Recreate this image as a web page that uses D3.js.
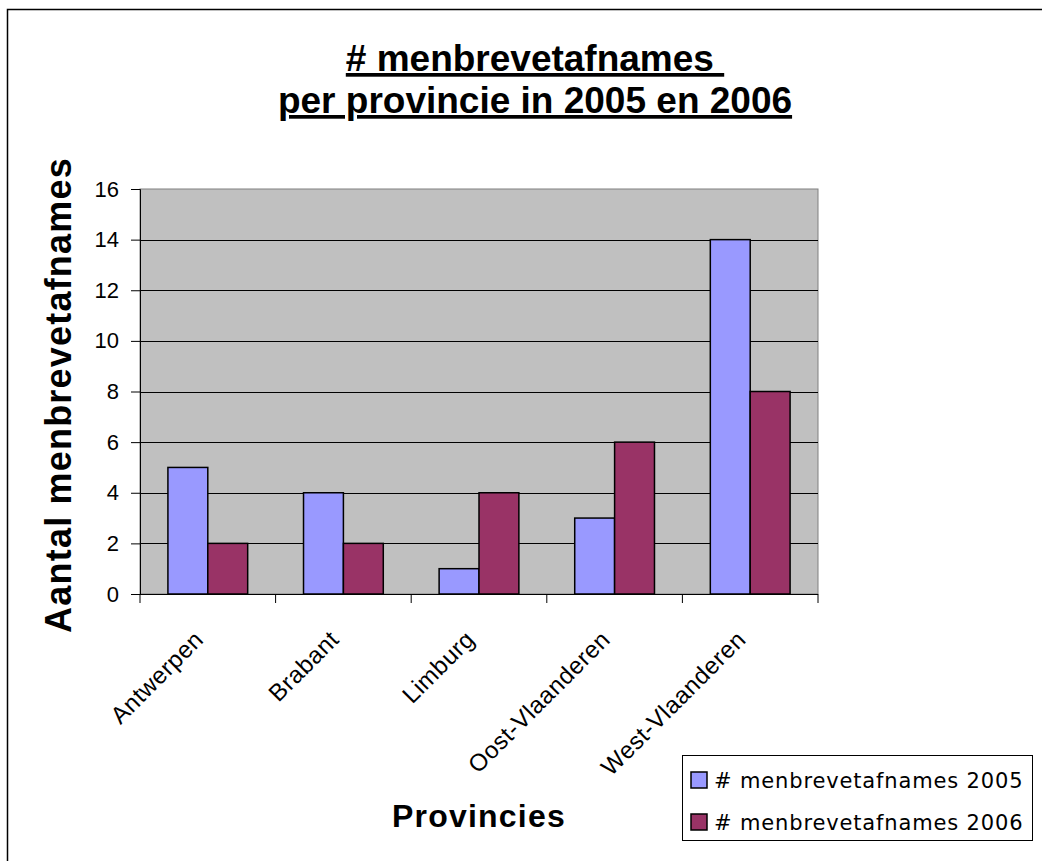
<!DOCTYPE html>
<html><head><meta charset="utf-8">
<script src="https://cdn.jsdelivr.net/npm/d3@7"></script>
<style>html,body{margin:0;padding:0;background:#fff;} svg{display:block;}</style>
</head><body>
<svg id="c" width="1042" height="861"></svg>
<script>
const categories = ["Antwerpen", "Brabant", "Limburg", "Oost-Vlaanderen", "West-Vlaanderen"];
const series2005 = [5, 4, 1, 3, 14];
const series2006 = [2, 2, 4, 6, 8];
const seriesNames = ["# menbrevetafnames 2005", "# menbrevetafnames 2006"];
const seriesColors = ["#9999FF", "#993366"];
const yTicks = [0, 2, 4, 6, 8, 10, 12, 14, 16];
const titleLines = ["# menbrevetafnames ", "per provincie in 2005 en 2006"];

const svg = d3.select("#c");
const font = "'Liberation Sans', Arial, sans-serif";

// outer border
svg.append("rect").attr("x", 7.5).attr("y", 9.5).attr("width", 1100).attr("height", 1000)
  .attr("fill", "none").attr("stroke", "#000").attr("stroke-width", 1.5);

const m = {left: 140, right: 818, top: 189, bottom: 594};
const x = d3.scaleBand().domain(categories).range([m.left, m.right]).paddingInner(0).paddingOuter(0);
const y = d3.scaleLinear().domain([0, 16]).range([m.bottom, m.top]);

// plot area
svg.append("rect").attr("x", m.left).attr("y", m.top).attr("width", m.right - m.left).attr("height", m.bottom - m.top)
  .attr("fill", "#C0C0C0").attr("stroke", "#808080").attr("stroke-width", 1);

// gridlines
svg.append("g").selectAll("line").data(yTicks.filter(d => d > 0 && d < 16)).join("line")
  .attr("x1", m.left).attr("x2", m.right).attr("y1", d => Math.round(y(d)) + 0.5).attr("y2", d => Math.round(y(d)) + 0.5)
  .attr("stroke", "#000").attr("stroke-width", 1);

// bars
const inner = d3.scaleBand().domain([0, 1]).range([0, x.bandwidth()]).paddingOuter(0.7).paddingInner(0);
const data = categories.map((c, i) => ({c, v: [series2005[i], series2006[i]]}));
const g = svg.append("g");
data.forEach(d => {
  d.v.forEach((v, j) => {
    g.append("rect").attr("x", x(d.c) + inner(j)).attr("y", y(v)).attr("width", inner.bandwidth()).attr("height", y(0) - y(v))
      .attr("fill", seriesColors[j]).attr("stroke", "#000").attr("stroke-width", 1.5);
  });
});

// y axis
const yAxis = d3.axisLeft(y).tickValues(yTicks).tickSize(9).tickPadding(12);
const ya = svg.append("g").attr("transform", `translate(${m.left},0)`).call(yAxis);
ya.select(".domain").attr("stroke", "#000");
ya.selectAll("text").attr("font-family", font).attr("font-size", 22).attr("fill", "#000");

// x axis
svg.append("line").attr("x1", m.left).attr("x2", m.right).attr("y1", m.bottom + 0.5).attr("y2", m.bottom + 0.5).attr("stroke", "#000");
svg.append("g").selectAll("line").data(categories.map(c => x(c)).concat([m.right])).join("line")
  .attr("x1", d => d).attr("x2", d => d).attr("y1", m.bottom).attr("y2", m.bottom + 9).attr("stroke", "#000");

svg.append("g").selectAll("text").data(categories).join("text")
  .attr("transform", d => `translate(${x(d) + x.bandwidth() / 2 - 3},${m.bottom + 47}) rotate(-45)`)
  .attr("text-anchor", "end").attr("font-family", font).attr("font-size", 24).attr("letter-spacing", 0.5).attr("fill", "#000")
  .text(d => d);

// title
titleLines.forEach((t, i) => {
  svg.append("text").attr("x", 535).attr("y", 71 + i * 42).attr("text-anchor", "middle")
    .attr("font-family", font).attr("font-weight", "bold").attr("font-size", 37)
    .attr("text-decoration", "underline").attr("xml:space", "preserve").style("white-space", "pre").text(t);
});

// axis titles
svg.append("text").attr("transform", `translate(71,395) rotate(-90)`).attr("text-anchor", "middle")
  .attr("font-family", font).attr("font-weight", "bold").attr("font-size", 36).attr("letter-spacing", 1.2).text("Aantal menbrevetafnames");
svg.append("text").attr("x", 479).attr("y", 827).attr("text-anchor", "middle")
  .attr("font-family", font).attr("font-weight", "bold").attr("font-size", 32).attr("letter-spacing", 1.2).text("Provincies");

// legend
const lg = svg.append("g");
lg.append("rect").attr("x", 682.5).attr("y", 755.5).attr("width", 350).attr("height", 85)
  .attr("fill", "#fff").attr("stroke", "#000").attr("stroke-width", 1);
seriesNames.forEach((n, i) => {
  const top = 772 + i * 42;
  lg.append("rect").attr("x", 691).attr("y", top).attr("width", 16).attr("height", 16)
    .attr("fill", seriesColors[i]).attr("stroke", "#000").attr("stroke-width", 1.5);
  lg.append("text").attr("x", 714).attr("y", top + 16).attr("font-family", "'DejaVu Sans', Tahoma, sans-serif")
    .attr("font-size", 21).attr("letter-spacing", 0.85).text(n);
});
</script>
</body></html>
